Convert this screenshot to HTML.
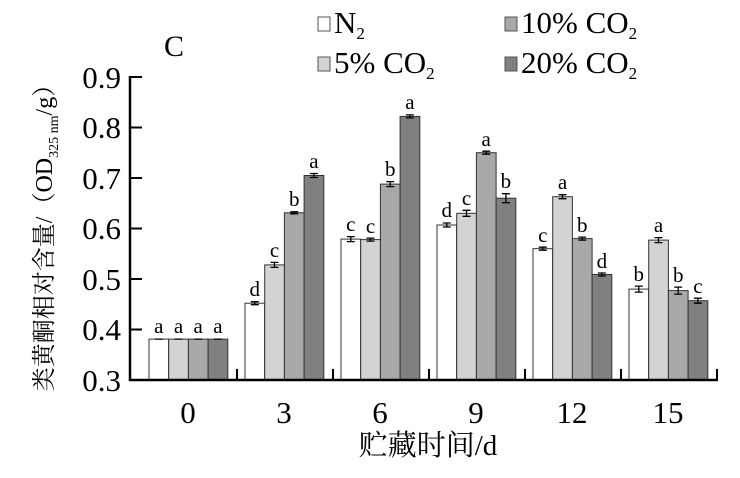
<!DOCTYPE html>
<html><head><meta charset="utf-8"><style>body{margin:0;background:#fff}svg{display:block}</style></head><body>
<svg width="740" height="478" viewBox="0 0 740 478" xmlns="http://www.w3.org/2000/svg" font-family="Liberation Serif, Noto Serif CJK SC, serif">
<g stroke="#333" stroke-width="1">
<rect x="149" y="339.1" width="19.7" height="40.9" fill="#fff"/>
<rect x="168.7" y="339.1" width="19.7" height="40.9" fill="#d3d3d3"/>
<rect x="188.4" y="339.1" width="19.7" height="40.9" fill="#a8a8a8"/>
<rect x="208.1" y="339.1" width="19.7" height="40.9" fill="#808080"/>
<rect x="245" y="303.2" width="19.7" height="76.8" fill="#fff"/>
<rect x="264.7" y="264.9" width="19.7" height="115.1" fill="#d3d3d3"/>
<rect x="284.4" y="212.8" width="19.7" height="167.2" fill="#a8a8a8"/>
<rect x="304.1" y="175.5" width="19.7" height="204.5" fill="#808080"/>
<rect x="341" y="239.1" width="19.7" height="140.9" fill="#fff"/>
<rect x="360.7" y="239.6" width="19.7" height="140.4" fill="#d3d3d3"/>
<rect x="380.4" y="184.1" width="19.7" height="195.9" fill="#a8a8a8"/>
<rect x="400.1" y="116.4" width="19.7" height="263.6" fill="#808080"/>
<rect x="437" y="225" width="19.7" height="155" fill="#fff"/>
<rect x="456.7" y="213.3" width="19.7" height="166.7" fill="#d3d3d3"/>
<rect x="476.4" y="152.7" width="19.7" height="227.3" fill="#a8a8a8"/>
<rect x="496.1" y="198.2" width="19.7" height="181.8" fill="#808080"/>
<rect x="533" y="248.7" width="19.7" height="131.3" fill="#fff"/>
<rect x="552.7" y="196.7" width="19.7" height="183.3" fill="#d3d3d3"/>
<rect x="572.4" y="238.6" width="19.7" height="141.4" fill="#a8a8a8"/>
<rect x="592.1" y="274.5" width="19.7" height="105.5" fill="#808080"/>
<rect x="629" y="289.1" width="19.7" height="90.9" fill="#fff"/>
<rect x="648.7" y="240.1" width="19.7" height="139.9" fill="#d3d3d3"/>
<rect x="668.4" y="290.6" width="19.7" height="89.4" fill="#a8a8a8"/>
<rect x="688.1" y="300.7" width="19.7" height="79.3" fill="#808080"/>
</g>
<g stroke="#000" stroke-width="1.3" fill="none">
<path d="M155 339.1h8M174.5 339.1h8M194.2 339.1h8M213.9 339.1h8"/>
<path d="M254.8 301.7v3M250.8 301.7h8M250.8 304.7h8"/>
<path d="M274.5 262.4v5M270.5 262.4h8M270.5 267.4h8"/>
<path d="M294.2 211.8v2M290.2 211.8h8M290.2 213.8h8"/>
<path d="M313.9 173.5v4M309.9 173.5h8M309.9 177.5h8"/>
<path d="M350.8 236.6v5M346.8 236.6h8M346.8 241.6h8"/>
<path d="M370.5 238.1v3M366.5 238.1h8M366.5 241.1h8"/>
<path d="M390.2 181.6v5M386.2 181.6h8M386.2 186.6h8"/>
<path d="M409.9 114.9v3M405.9 114.9h8M405.9 117.9h8"/>
<path d="M446.8 223v4M442.8 223h8M442.8 227h8"/>
<path d="M466.5 210.3v6M462.5 210.3h8M462.5 216.3h8"/>
<path d="M486.2 151.2v3M482.2 151.2h8M482.2 154.2h8"/>
<path d="M505.9 193.7v9M501.9 193.7h8M501.9 202.7h8"/>
<path d="M542.8 247.2v3M538.8 247.2h8M538.8 250.2h8"/>
<path d="M562.5 194.7v4M558.5 194.7h8M558.5 198.7h8"/>
<path d="M582.2 237.1v3M578.2 237.1h8M578.2 240.1h8"/>
<path d="M601.9 273v3M597.9 273h8M597.9 276h8"/>
<path d="M638.8 286.1v6M634.8 286.1h8M634.8 292.1h8"/>
<path d="M658.5 237.6v5M654.5 237.6h8M654.5 242.6h8"/>
<path d="M678.2 287.1v7M674.2 287.1h8M674.2 294.1h8"/>
<path d="M697.9 298.2v5M693.9 298.2h8M693.9 303.2h8"/>
</g>
<g font-size="21" text-anchor="middle">
<text x="158.8" y="333">a</text><text x="178.5" y="333">a</text><text x="198.2" y="333">a</text><text x="217.9" y="333">a</text>
<text x="254.8" y="296">d</text><text x="274.5" y="257">c</text><text x="294.2" y="206">b</text><text x="313.9" y="168">a</text>
<text x="350.8" y="231">c</text><text x="370.5" y="233">c</text><text x="390.2" y="176">b</text><text x="409.9" y="109">a</text>
<text x="446.8" y="217">d</text><text x="466.5" y="205">c</text><text x="486.2" y="146">a</text><text x="505.9" y="188">b</text>
<text x="542.8" y="242">c</text><text x="562.5" y="189">a</text><text x="582.2" y="232">b</text><text x="601.9" y="268">d</text>
<text x="638.8" y="281">b</text><text x="658.5" y="232">a</text><text x="678.2" y="282">b</text><text x="697.9" y="293">c</text>
</g>
<line x1="130" y1="76" x2="130" y2="381" stroke="#000" stroke-width="2.5"/>
<line x1="129" y1="380" x2="718" y2="380" stroke="#000" stroke-width="2.5"/>
<g stroke="#000" stroke-width="2">
<line x1="130" y1="77" x2="142" y2="77"/><line x1="130" y1="127.5" x2="142" y2="127.5"/><line x1="130" y1="178" x2="142" y2="178"/><line x1="130" y1="228.5" x2="142" y2="228.5"/><line x1="130" y1="279" x2="142" y2="279"/><line x1="130" y1="329.5" x2="142" y2="329.5"/>
<line x1="237" y1="380" x2="237" y2="369"/><line x1="333" y1="380" x2="333" y2="369"/><line x1="429" y1="380" x2="429" y2="369"/><line x1="525" y1="380" x2="525" y2="369"/><line x1="621" y1="380" x2="621" y2="369"/><line x1="717" y1="380" x2="717" y2="369"/>
</g>
<g font-size="31" text-anchor="end">
<text x="121" y="88">0.9</text><text x="121" y="138">0.8</text><text x="121" y="189">0.7</text><text x="121" y="239">0.6</text><text x="121" y="290">0.5</text><text x="121" y="340">0.4</text><text x="121" y="391">0.3</text>
</g>
<g font-size="31" text-anchor="middle">
<text x="188" y="423">0</text><text x="284" y="423">3</text><text x="380" y="423">6</text><text x="476" y="423">9</text><text x="572" y="423">12</text><text x="668" y="423">15</text>
<text x="428" y="455" font-size="29">贮藏时间/d</text>
</g>
<text x="164" y="56" font-size="30">C</text>
<text transform="translate(52,232) rotate(-90)" font-size="24" text-anchor="middle">类黄酮相对含量/（OD<tspan font-size="14" dy="6">325 nm</tspan><tspan dy="-6">/g）</tspan></text>
<g stroke="#555" stroke-width="1">
<rect x="318" y="17" width="12" height="14" fill="#fff"/><rect x="318" y="57" width="12" height="14" fill="#d3d3d3"/>
<rect x="505" y="17" width="12" height="14" fill="#a8a8a8"/><rect x="505" y="57" width="12" height="14" fill="#808080"/>
</g>
<g font-size="31">
<text x="334" y="33">N<tspan font-size="17" dy="6">2</tspan></text>
<text x="334" y="73">5% CO<tspan font-size="17" dy="6">2</tspan></text>
<text x="521" y="33">10% CO<tspan font-size="17" dy="6">2</tspan></text>
<text x="521" y="73">20% CO<tspan font-size="17" dy="6">2</tspan></text>
</g>
</svg>
</body></html>
